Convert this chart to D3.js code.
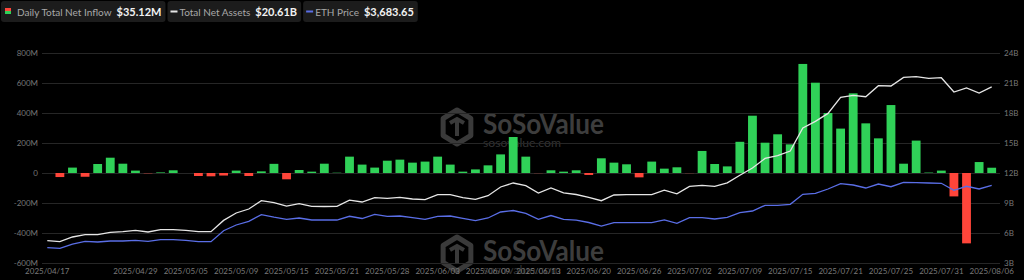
<!DOCTYPE html>
<html>
<head>
<meta charset="utf-8">
<script src="https://cdn.jsdelivr.net/npm/d3@7/dist/d3.min.js"></script>
<style>
  html, body { margin: 0; padding: 0; background: #000; }
  svg { display: block; font-family: Lato, "Open Sans", sans-serif; }
</style>
</head>
<body>
<div id="chart"></div>
<script>
var dates = ["2025/04/17","2025/04/21","2025/04/22","2025/04/23","2025/04/24","2025/04/25","2025/04/28","2025/04/29",
  "2025/04/30","2025/05/01","2025/05/02","2025/05/05","2025/05/06","2025/05/07","2025/05/08","2025/05/09",
  "2025/05/12","2025/05/13","2025/05/14","2025/05/15","2025/05/16","2025/05/19","2025/05/20","2025/05/21",
  "2025/05/22","2025/05/23","2025/05/27","2025/05/28","2025/05/29","2025/05/30","2025/06/02","2025/06/03",
  "2025/06/04","2025/06/05","2025/06/06","2025/06/09","2025/06/10","2025/06/11","2025/06/12","2025/06/13",
  "2025/06/16","2025/06/17","2025/06/18","2025/06/20","2025/06/23","2025/06/24","2025/06/25","2025/06/26",
  "2025/06/27","2025/06/30","2025/07/01","2025/07/02","2025/07/03","2025/07/07","2025/07/08","2025/07/09",
  "2025/07/10","2025/07/11","2025/07/14","2025/07/15","2025/07/16","2025/07/17","2025/07/18","2025/07/21",
  "2025/07/22","2025/07/23","2025/07/24","2025/07/25","2025/07/28","2025/07/29","2025/07/30","2025/07/31",
  "2025/08/01","2025/08/04","2025/08/05","2025/08/06"];

// daily total net inflow, million USD
var inflow = [0, -27, 36, -25, 60, 102, 62, 16, -2, 4, 18, 0, -20, -22, -17, 16,
  -20, 11, 61, -42, 20, 9, 62, 2, 109, 56, 36, 82, 89, 69, 76, 109,
  56, 9, 24, 51, 124, 240, 109, -1, 18, 9, 18, -13, 98, 69, 58, -29,
  76, 29, 38, -1, 147, 60, 44, 208, 382, 202, 258, 191, 727, 602, 400, 296,
  531, 331, 231, 453, 62, 216, 3, 16, -156, -469, 73, 35.12];

// total net assets, billion USD
var netAssets = [5.23, 5.13, 5.60, 5.83, 5.83, 6.06, 6.13, 6.26, 6.10, 6.33, 6.33, 6.26, 6.13, 6.13, 7.26, 8.00,
  8.40, 9.23, 9.03, 8.68, 8.93, 8.66, 8.65, 8.66, 9.28, 9.10, 9.53, 9.46, 9.56, 9.40, 9.33, 9.83,
  9.83, 9.53, 9.36, 9.73, 10.60, 11.00, 10.73, 10.00, 10.51, 10.01, 9.85, 9.56, 9.23, 9.80, 9.83, 9.83,
  9.83, 10.28, 9.91, 10.66, 10.76, 10.66, 11.01, 11.78, 12.50, 13.46, 13.73, 14.20, 16.50, 17.16, 17.96, 19.56,
  19.76, 19.63, 20.73, 20.70, 21.56, 21.63, 21.46, 21.53, 20.10, 20.50, 20.00, 20.61];

// ETH price, USD
var ethPrice = [1610, 1590, 1733, 1823, 1800, 1833, 1833, 1857, 1823, 1877, 1877, 1857, 1810, 1810, 2177, 2367,
  2490, 2710, 2627, 2557, 2600, 2533, 2533, 2533, 2657, 2583, 2723, 2657, 2667, 2610, 2557, 2657,
  2667, 2590, 2510, 2600, 2800, 2850, 2757, 2557, 2683, 2557, 2527, 2450, 2333, 2443, 2443, 2443,
  2443, 2540, 2423, 2610, 2610, 2567, 2623, 2777, 2833, 3023, 3023, 3057, 3390, 3423, 3567, 3743,
  3700, 3600, 3733, 3643, 3790, 3777, 3767, 3757, 3523, 3657, 3567, 3683.65];

var leftTicks = [-600, -400, -200, 0, 200, 400, 600, 800];
var rightTicks = [3, 6, 9, 12, 15, 18, 21, 24];

var width = 1024;
var height = 280;
var plotLeft = 42, plotRight = 1000, plotTop = 53, plotBottom = 263;

var green = "#30d158";
var red = "#ff453a";
var white = "#e6e6e6";
var blue = "#5a6ee6";

var svg = d3.select("#chart").append("svg")
    .attr("width", width)
    .attr("height", height);

svg.append("rect")
    .attr("width", width)
    .attr("height", height)
    .attr("fill", "#000");

/* Scales */
var xScale = d3.scaleBand()
    .domain(dates)
    .range([41, 998])
    .paddingInner(0.3)
    .paddingOuter(0.15);
var yLeft = d3.scaleLinear().domain([-600, 800]).range([plotBottom, plotTop]);
var yRight = d3.scaleLinear().domain([3, 24]).range([plotBottom, plotTop]);
var yEth = d3.scaleLinear().domain([1100, 8100]).range([plotBottom, plotTop]);

/* Watermark */
function watermark(cx, cy) {
    var g = svg.append("g").attr("class", "watermark");
    var hex = d3.range(6).map(function(k) {
        var a = Math.PI / 3 * k - Math.PI / 2;
        return [cx + 16 * Math.cos(a), cy + 17 * Math.sin(a)];
    });
    g.append("path")
        .attr("d", d3.line().curve(d3.curveLinearClosed)(hex))
        .attr("fill", "none")
        .attr("stroke", "#3a3a3a")
        .attr("stroke-width", 5)
        .attr("stroke-linejoin", "round");
    g.append("path")
        .attr("d", "M" + (cx - 7) + "," + (cy - 4) + "L" + cx + "," + (cy - 8) + "L" + (cx + 7) + "," + (cy - 4) +
                   "M" + cx + "," + (cy - 8) + "L" + cx + "," + (cy + 9))
        .attr("fill", "none")
        .attr("stroke", "#3a3a3a")
        .attr("stroke-width", 4);
    g.append("text")
        .attr("x", cx + 26)
        .attr("y", cy + 7)
        .attr("font-size", 28)
        .attr("font-weight", "bold")
        .attr("fill", "#3d3d3d")
        .attr("textLength", 121)
        .attr("lengthAdjust", "spacingAndGlyphs")
        .text("SoSoValue");
    g.append("text")
        .attr("x", cx + 26)
        .attr("y", cy + 20)
        .attr("font-size", 12)
        .attr("fill", "#333")
        .attr("textLength", 78)
        .attr("lengthAdjust", "spacingAndGlyphs")
        .text("sosovalue.com");
}
watermark(457, 127);
watermark(457, 254);

/* Grid + left axis */
var leftAxis = d3.axisLeft(yLeft)
    .tickValues(leftTicks)
    .tickSize(-(plotRight - plotLeft))
    .tickPadding(4)
    .tickFormat(function(d) { return d === 0 ? "0" : d + "M"; });

var gLeft = svg.append("g")
    .attr("class", "y axis left")
    .attr("transform", "translate(" + plotLeft + ",0)")
    .call(leftAxis);
gLeft.select(".domain").remove();
gLeft.selectAll("line").attr("stroke", "#262626");
gLeft.selectAll("text").attr("fill", "#777").attr("font-size", 8).attr("font-family", "Lato, sans-serif");

/* Right axis */
var rightAxis = d3.axisRight(yRight)
    .tickValues(rightTicks)
    .tickSize(0)
    .tickPadding(4)
    .tickFormat(function(d) { return d + "B"; });

var gRight = svg.append("g")
    .attr("class", "y axis right")
    .attr("transform", "translate(" + plotRight + ",0)")
    .call(rightAxis);
gRight.select(".domain").remove();
gRight.selectAll("text").attr("fill", "#777").attr("font-size", 8).attr("font-family", "Lato, sans-serif");

/* X axis: first date, then every 4th date counted back from the last */
var xTicks = [];
for (var i = dates.length - 1; i >= 5; i -= 4) xTicks.push(dates[i]);
xTicks.push(dates[0]);

var xAxis = d3.axisBottom(xScale)
    .tickValues(xTicks)
    .tickSize(0)
    .tickPadding(5);

var gX = svg.append("g")
    .attr("class", "x axis")
    .attr("transform", "translate(0," + plotBottom + ")")
    .call(xAxis);
gX.select(".domain").remove();
gX.selectAll("text").attr("fill", "#7a7a7a").attr("font-size", 8).attr("font-family", "Lato, sans-serif");

/* Bars */
svg.append("g")
    .attr("class", "bars")
    .selectAll("rect")
    .data(inflow)
    .enter()
    .append("rect")
    .attr("x", function(d, i) { return xScale(dates[i]); })
    .attr("width", xScale.bandwidth())
    .attr("y", function(d) { return yLeft(Math.max(0, d)); })
    .attr("height", function(d) { return Math.abs(yLeft(d) - yLeft(0)); })
    .attr("fill", function(d) { return d < 0 ? red : green; });

/* Lines */
var half = xScale.bandwidth() / 2;
var assetsLine = d3.line()
    .x(function(d, i) { return xScale(dates[i]) + half; })
    .y(function(d) { return yRight(d); });
var ethLine = d3.line()
    .x(function(d, i) { return xScale(dates[i]) + half; })
    .y(function(d) { return yEth(d); });

svg.append("path")
    .attr("class", "line eth")
    .attr("d", ethLine(ethPrice))
    .attr("fill", "none")
    .attr("stroke", blue)
    .attr("stroke-width", 1.3);

svg.append("path")
    .attr("class", "line assets")
    .attr("d", assetsLine(netAssets))
    .attr("fill", "none")
    .attr("stroke", white)
    .attr("stroke-width", 1.3);

/* Legend */
var last = dates.length - 1;
var legendItems = [
    {label: "Daily Total Net Inflow", value: "$" + d3.format(".2f")(inflow[last]) + "M", type: "bar"},
    {label: "Total Net Assets", value: "$" + d3.format(".2f")(netAssets[last]) + "B", type: "white"},
    {label: "ETH Price", value: "$" + d3.format(",.2f")(ethPrice[last]), type: "blue"}
];

var legend = svg.append("g").attr("class", "legend");
var cursor = 1;
legendItems.forEach(function(item) {
    var g = legend.append("g").attr("transform", "translate(" + cursor + ",1)");
    var box = g.append("rect")
        .attr("y", 0)
        .attr("height", 21)
        .attr("rx", 3)
        .attr("fill", "#1c1c1c");
    if (item.type === "bar") {
        g.append("rect").attr("x", 4).attr("y", 7).attr("width", 6).attr("height", 3).attr("fill", red);
        g.append("rect").attr("x", 4).attr("y", 10).attr("width", 6).attr("height", 3).attr("fill", green);
    } else {
        g.append("rect").attr("x", 3).attr("y", 9.5).attr("width", 7).attr("height", 2)
            .attr("fill", item.type === "white" ? white : blue);
    }
    var lbl = g.append("text")
        .attr("x", item.type === "bar" ? 16 : 12)
        .attr("y", 14.5)
        .attr("font-size", 10)
        .attr("fill", "#a8a8a8")
        .text(item.label);
    var lx = +lbl.attr("x") + lbl.node().getComputedTextLength() + 5;
    var val = g.append("text")
        .attr("x", lx)
        .attr("y", 14.5)
        .attr("font-size", 11)
        .attr("font-weight", "bold")
        .attr("fill", "#f2f2f2")
        .text(item.value);
    var w = lx + val.node().getComputedTextLength() + 4;
    box.attr("width", w);
    cursor += w + 2;
});
</script>
</body>
</html>
